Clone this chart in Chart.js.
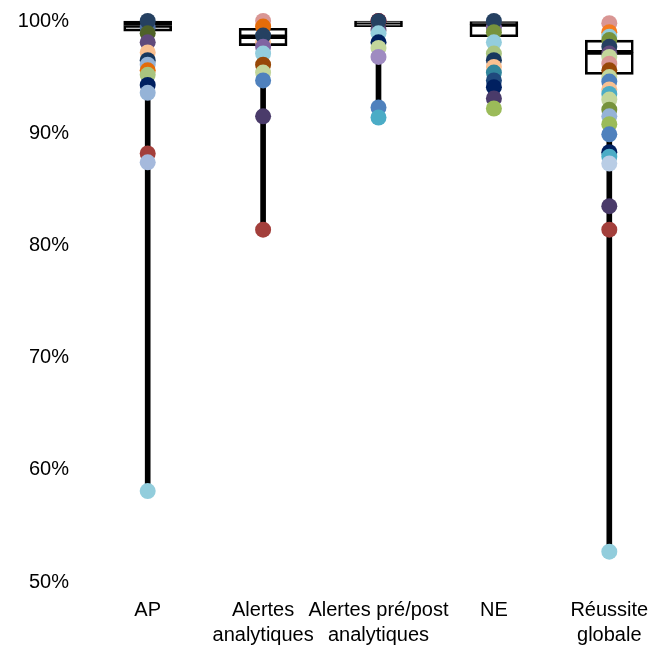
<!DOCTYPE html>
<html>
<head>
<meta charset="utf-8">
<script src="https://cdn.jsdelivr.net/npm/chart.js@4.4.1/dist/chart.umd.min.js"></script>
<style>
  html, body { margin: 0; padding: 0; background: #fff; overflow: hidden; }
  #wrap { width: 667px; height: 646px; }
</style>
</head>
<body>
<div id="wrap"><canvas id="chart"></canvas></div>
<script>
const categories = ['AP', 'Alertes analytiques', 'Alertes pré/post analytiques', 'NE', 'Réussite globale'];
const tickLines = [['AP'], ['Alertes', 'analytiques'], ['Alertes pré/post', 'analytiques'], ['NE'], ['Réussite', 'globale']];
const yTicks = [50, 60, 70, 80, 90, 100];

// box: first quartile, median, third quartile
const q1 = [99.1, 97.8, 99.5, 98.6, 95.25];
const median = [99.6, 98.6, 99.8, 99.7, 97.2];
const q3 = [100, 99.35, 100, 99.95, 98.3];

// individual results per category
const apValues = [99.4, 100, 98.9, 98.1, 97.2, 96.5, 96.1, 95.6, 95.2, 94.3, 93.6, 88.2, 87.4, 58.1];
const apColors = ['#4f6fa0', '#254061', '#4f6228', '#604a7b', '#fac090', '#17375e', '#95b3d7', '#e46c0a', '#a9c47f', '#002060', '#95b3d7', '#a33f3b', '#a5b9dc', '#92cddc'];

const alertesValues = [100, 99.5, 98.1, 98.7, 97.7, 97.1, 96.1, 95.4, 94.7, 91.5, 81.4];
const alertesColors = ['#d99694', '#e46c0a', '#fac090', '#254061', '#8064a2', '#93cddd', '#984807', '#c3d69b', '#4f81bd', '#4a3b6a', '#a33f3b'];

const prePostValues = [100, 99.2, 100, 98.9, 98.1, 97.6, 96.8, 92.3, 91.4];
const prePostColors = ['#ff0000', '#604a7b', '#254061', '#93cddd', '#002060', '#c3d69b', '#9f8bc1', '#4f81bd', '#4bacc6'];

const neValues = [99.4, 100, 99.0, 98.1, 97.1, 96.5, 95.9, 95.4, 94.7, 94.1, 93.1, 92.2];
const neColors = ['#8064a2', '#254061', '#77933c', '#93cddd', '#a9c47f', '#17375e', '#fac090', '#31859c', '#1f497d', '#002060', '#4a3b6a', '#9bbb59'];

const globalValues = [99.8, 99.0, 98.6, 98.3, 97.7, 97.1, 96.8, 96.2, 95.6, 95.0, 94.6, 93.9, 93.5, 93.0, 92.1, 91.5, 90.8, 89.9, 88.3, 87.9, 87.3, 83.5, 81.4, 52.7];
const globalColors = ['#d99694', '#f47c20', '#93cddd', '#77933c', '#254061', '#604a7b', '#c3d69b', '#d99694', '#984807', '#c3d69b', '#4f81bd', '#fac090', '#4bacc6', '#c3d69b', '#77933c', '#95b3d7', '#9bbb59', '#4f81bd', '#002060', '#4bacc6', '#b9cde5', '#4a3b6a', '#a33f3b', '#92cddc'];

const allValues = [apValues, alertesValues, prePostValues, neValues, globalValues];
const allColors = [apColors, alertesColors, prePostColors, neColors, globalColors];

const fontFamily = '"Liberation Sans", Arial, Helvetica, sans-serif';

const whiskers = allValues.map(v => [Math.min(...v), Math.max(...v)]);

const pointSets = categories.map((cat, i) => ({
  type: 'scatter',
  data: allValues[i].map(v => ({ x: cat, y: v })),
  pointBackgroundColor: allColors[i],
  pointBorderWidth: 0,
  pointRadius: 8,
  pointHoverRadius: 8,
  showLine: false,
  clip: false,
  order: 0
}));

const boxStyle = {
  backgroundColor: 'rgba(0,0,0,0)',
  borderColor: '#000',
  borderWidth: 2,
  borderSkipped: false,
  barThickness: 48,
  grouped: false,
  clip: false,
  order: 2
};

new Chart(document.getElementById('chart'), {
  type: 'bar',
  data: {
    labels: categories,
    datasets: [
      ...pointSets,
      Object.assign({ data: categories.map((c, i) => [q1[i], median[i]]) }, boxStyle),
      Object.assign({ data: categories.map((c, i) => [median[i], q3[i]]) }, boxStyle),
      {
        data: whiskers,
        backgroundColor: '#000',
        borderWidth: 0,
        barThickness: 5,
        grouped: false,
        clip: false,
        order: 3
      }
    ]
  },
  options: {
    responsive: true,
    maintainAspectRatio: false,
    animation: false,
    events: [],
    layout: { autoPadding: false, padding: { top: 21, left: 10, right: 0, bottom: 0 } },
    plugins: {
      legend: { display: false },
      tooltip: { enabled: false }
    },
    scales: {
      x: {
        type: 'category',
        offset: true,
        grid: { display: false, drawTicks: false },
        border: { display: false },
        ticks: {
          color: '#000',
          padding: 16,
          maxRotation: 0,
          autoSkip: false,
          font: { family: fontFamily, size: 20, lineHeight: 1.25 },
          callback: (v, i) => tickLines[i]
        },
        afterFit: s => { s.height = 64; s.paddingRight = 0; s.paddingLeft = 0; }
      },
      y: {
        min: 50,
        max: 100,
        grid: { display: false, drawTicks: false },
        border: { display: false },
        afterBuildTicks: s => { s.ticks = yTicks.map(v => ({ value: v })); },
        ticks: {
          color: '#000',
          padding: 21,
          font: { family: fontFamily, size: 20 },
          callback: v => v + '%'
        },
        afterFit: s => { s.width = 80; s.paddingTop = 0; s.paddingBottom = 0; }
      }
    }
  }
});
</script>
</body>
</html>
